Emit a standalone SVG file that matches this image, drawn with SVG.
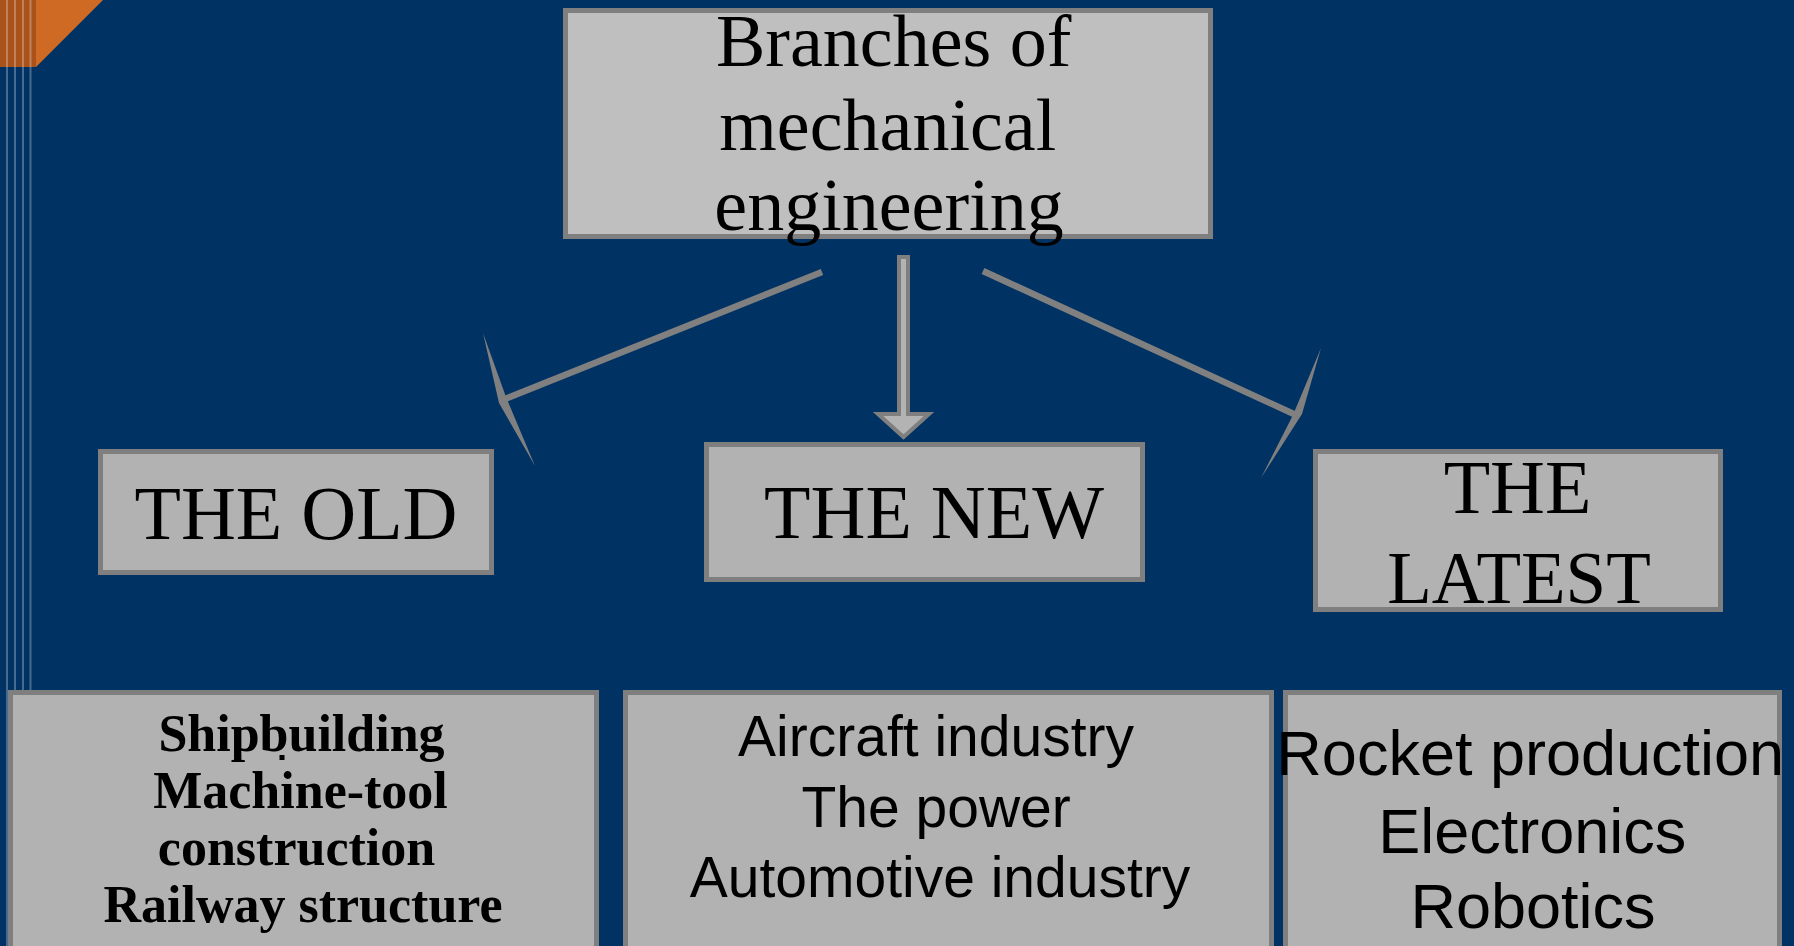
<svg xmlns="http://www.w3.org/2000/svg" width="1794" height="946" viewBox="0 0 1794 946">
  <style>
    .box { fill: #b2b2b2; stroke: #7f7f7f; stroke-width: 5; }
    .box-top { fill: #bfbfbf; stroke: #7f7f7f; stroke-width: 5; }
    .serif { font-family: "Liberation Serif", "Times New Roman", serif; fill: #000; text-anchor: middle; }
    .sans { font-family: "Liberation Sans", Arial, sans-serif; fill: #000; text-anchor: middle; }
    .bold { font-weight: bold; }
    .stripe { stroke: #ffffff; stroke-opacity: 0.28; stroke-width: 2; }
    .link { stroke: #808080; stroke-width: 6.5; fill: none; }
    .barb { fill: #808080; }
  </style>

  <!-- background -->
  <rect x="0" y="0" width="1794" height="946" fill="#003263"/>

  <!-- corner accent -->
  <polygon points="0,0 103,0 36,67 0,67" fill="#cf6a24"/>
  <rect x="0" y="0" width="36" height="67" fill="#a9531b"/>
  <g id="stripes">
    <line class="stripe" x1="7" y1="0" x2="7" y2="946"/>
    <line class="stripe" x1="15" y1="0" x2="15" y2="946"/>
    <line class="stripe" x1="23" y1="0" x2="23" y2="946"/>
    <line class="stripe" x1="30.5" y1="0" x2="30.5" y2="946"/>
  </g>

  <!-- connectors -->
  <g id="connectors">
    <!-- to THE OLD -->
    <line class="link" x1="822" y1="272" x2="505" y2="399"/>
    <polygon class="barb" points="483,333 506,397 535,466 499,403"/>
    <!-- to THE LATEST -->
    <line class="link" x1="983" y1="271" x2="1296" y2="415"/>
    <polygon class="barb" points="1321,348 1302,414 1261,478 1293,415"/>
    <!-- to THE NEW -->
    <polygon points="899,257 908,257 908,414 929,414 903.5,437 878,414 899,414"
             fill="#b3b3b3" stroke="#7f7f7f" stroke-width="4" stroke-linejoin="miter"/>
  </g>

  <!-- root -->
  <g id="node-root">
    <rect class="box-top" x="565.5" y="10.5" width="645" height="226"/>
    <text class="serif" font-size="74">
      <tspan x="903" y="66">Branches of</tspan>
      <tspan x="897" y="150">mechanical</tspan>
      <tspan x="889" y="230">engineering</tspan>
    </text>
  </g>

  <!-- categories -->
  <g id="node-old">
    <rect class="box" x="100.5" y="451.5" width="391" height="121"/>
    <text class="serif" font-size="76" x="296" y="539">THE OLD</text>
  </g>
  <g id="node-new">
    <rect class="box" x="706.5" y="444.5" width="436" height="135"/>
    <text class="serif" font-size="76" x="934" y="538">THE NEW</text>
  </g>
  <g id="node-latest">
    <rect class="box" x="1315.5" y="451.5" width="405" height="158"/>
    <text class="serif" font-size="76">
      <tspan x="1527" y="513">THE</tspan>
      <tspan x="1519" y="603" font-size="73">LATEST</tspan>
    </text>
  </g>

  <!-- examples -->
  <g id="node-old-list">
    <rect class="box" x="10.5" y="692.5" width="586" height="275"/>
    <text class="serif bold" font-size="52">
      <tspan x="308" y="751">Shipbuilding</tspan>
      <tspan x="307" y="808">Machine-tool</tspan>
      <tspan x="303" y="865">construction</tspan>
      <tspan x="303" y="922">Railway structure</tspan>
    </text>
    <rect x="279.5" y="755" width="5" height="5" fill="#000"/>
  </g>
  <g id="node-new-list">
    <rect class="box" x="625.5" y="692.5" width="646" height="275"/>
    <text class="sans" font-size="57">
      <tspan x="944" y="756">Aircraft industry</tspan>
      <tspan x="944" y="827">The power</tspan>
      <tspan x="940" y="897">Automotive industry</tspan>
    </text>
  </g>
  <g id="node-latest-list">
    <rect class="box" x="1285.5" y="692.5" width="494" height="275"/>
    <text class="sans" font-size="63">
      <tspan x="1539" y="775">Rocket production</tspan>
      <tspan x="1541" y="853">Electronics</tspan>
      <tspan x="1533" y="928">Robotics</tspan>
    </text>
  </g>
</svg>
